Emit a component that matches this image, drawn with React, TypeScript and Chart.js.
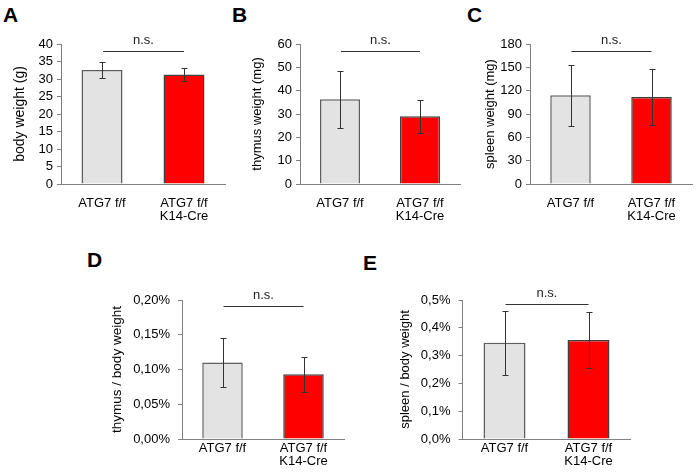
import React, { useEffect, useRef } from 'react';
import { Chart, registerables } from 'chart.js';

Chart.register(...registerables);

const FONT = '"Liberation Sans", Arial, Helvetica, sans-serif';

// ---- data ----
const categories: string[][] = [['ATG7 f/f'], ['ATG7 f/f', 'K14-Cre']];
const bodyWeight = [32.6, 31.3];
const bodyWeightErr = [2.3, 1.8];
const thymusWeight = [36.3, 29.0];
const thymusWeightErr = [12.3, 7.0];
const spleenWeight = [114, 112];
const spleenWeightErr = [39, 36];
const thymusRatio = [0.110, 0.093];
const thymusRatioErr = [0.035, 0.025];
const spleenRatio = [0.346, 0.356];
const spleenRatioErr = [0.114, 0.100];
const sigLevels = [38, 57, 171, 0.191, 0.486];
const sigLabel = 'n.s.';
const panelLetters = ['A', 'B', 'C', 'D', 'E'];
const yTitles = ['body weight (g)', 'thymus weight (mg)', 'spleen weight (mg)', 'thymus / body weight', 'spleen / body weight'];
const yMax = [40, 60, 180, 0.2, 0.5];
const yStep = [5, 10, 30, 0.05, 0.1];

const intFmt = (v: any) => String(Math.round(Number(v)));
const pct2 = (v: any) => Number(v).toFixed(2).replace('.', ',') + '%';
const pct1 = (v: any) => Number(v).toFixed(1).replace('.', ',') + '%';

const barColors = ['#e3e3e3', '#ff0000'];
const barBorders = ['#5e5e5e', '#404040'];

type Cfg = {
  values: number[]; errors: number[]; sig: number; max: number; step: number; title: string; fmt: (v: any) => string;
  l: number; t: number; w: number; h: number; padT: number; padR: number; yW: number; xH: number;
  titlePad: number; titleSize: number; xPad: number; yPad: number;
};

const panels: Cfg[] = [
  { values: bodyWeight, errors: bodyWeightErr, sig: sigLevels[0], max: yMax[0], step: yStep[0], title: yTitles[0], fmt: intFmt,
    l: 0, t: 30, w: 235, h: 200, padT: 14, padR: 10, yW: 61, xH: 46, titlePad: 11.6, titleSize: 14, xPad: 13, yPad: 4 },
  { values: thymusWeight, errors: thymusWeightErr, sig: sigLevels[1], max: yMax[1], step: yStep[1], title: yTitles[1], fmt: intFmt,
    l: 236, t: 30, w: 230, h: 200, padT: 14, padR: 6, yW: 64, xH: 46, titlePad: 13.2, titleSize: 13, xPad: 13, yPad: 4 },
  { values: spleenWeight, errors: spleenWeightErr, sig: sigLevels[2], max: yMax[2], step: yStep[2], title: yTitles[2], fmt: intFmt,
    l: 468, t: 30, w: 229, h: 200, padT: 14, padR: 5, yW: 62, xH: 46, titlePad: 14.2, titleSize: 13, xPad: 13, yPad: 4 },
  { values: thymusRatio, errors: thymusRatioErr, sig: sigLevels[3], max: yMax[3], step: yStep[3], title: yTitles[3], fmt: pct2,
    l: 100, t: 280, w: 250, h: 196, padT: 20, padR: 6, yW: 82, xH: 37, titlePad: 9.2, titleSize: 13.5, xPad: 3, yPad: 8 },
  { values: spleenRatio, errors: spleenRatioErr, sig: sigLevels[4], max: yMax[4], step: yStep[4], title: yTitles[4], fmt: pct1,
    l: 385, t: 280, w: 250, h: 196, padT: 20, padR: 4.5, yW: 77.5, xH: 37, titlePad: 12.2, titleSize: 13, xPad: 3, yPad: 8 },
];

const letterPos = [
  { left: 3, top: 4 }, { left: 232, top: 4 }, { left: 467, top: 4 }, { left: 87, top: 249 }, { left: 363, top: 252 },
];

const annotPlugin = {
  id: 'annot',
  afterDatasetsDraw(chart: any, _args: any, opts: any) {
    const { ctx } = chart;
    const meta = chart.getDatasetMeta(0);
    const ys = chart.scales.y;
    const xs = chart.scales.x;
    const vals = chart.data.datasets[0].data as number[];
    ctx.save();
    ctx.strokeStyle = '#333';
    ctx.lineWidth = 1;
    meta.data.forEach((bar: any, i: number) => {
      const v = vals[i];
      const e = opts.errors[i];
      const px = Math.round(bar.x) + 0.5;
      const yt = Math.round(ys.getPixelForValue(v + e)) + 0.5;
      const yb = Math.round(ys.getPixelForValue(v - e)) + 0.5;
      ctx.beginPath();
      ctx.moveTo(px, yt); ctx.lineTo(px, yb);
      ctx.moveTo(px - 3, yt); ctx.lineTo(px + 3, yt);
      ctx.moveTo(px - 3, yb); ctx.lineTo(px + 3, yb);
      ctx.stroke();
    });
    const sy = Math.round(ys.getPixelForValue(opts.sig)) + 0.5;
    const x0 = xs.getPixelForValue(0) + 1;
    const x1 = xs.getPixelForValue(1);
    ctx.beginPath();
    ctx.moveTo(x0, sy); ctx.lineTo(x1, sy);
    ctx.stroke();
    ctx.fillStyle = '#222';
    ctx.font = `13px ${FONT}`;
    ctx.textAlign = 'center';
    ctx.textBaseline = 'alphabetic';
    ctx.fillText(opts.label, (x0 + x1) / 2, sy - 8);
    ctx.restore();
  },
};

function Panel({ cfg }: { cfg: Cfg }) {
  const ref = useRef<HTMLCanvasElement>(null);
  useEffect(() => {
    const chart = new Chart(ref.current!, {
      type: 'bar',
      data: {
        labels: categories as any,
        datasets: [{
          data: cfg.values,
          backgroundColor: barColors,
          borderColor: barBorders,
          borderWidth: 1.5,
          barPercentage: 0.5,
          categoryPercentage: 1,
        }],
      },
      plugins: [annotPlugin],
      options: {
        animation: false,
        responsive: false,
        events: [],
        layout: { padding: { left: 0, right: cfg.padR, top: cfg.padT, bottom: 0 } },
        plugins: {
          legend: { display: false },
          tooltip: { enabled: false },
          annot: { errors: cfg.errors, sig: cfg.sig, label: sigLabel },
        } as any,
        scales: {
          x: {
            grid: { display: false, drawTicks: false },
            border: { display: true, color: '#808080', width: 1 },
            ticks: { color: '#000', font: { size: 13, family: FONT, lineHeight: 1.0 }, padding: cfg.xPad, maxRotation: 0, autoSkip: false },
            afterFit: (s: any) => { s.height = cfg.xH; },
          },
          y: {
            min: 0,
            max: cfg.max,
            ticks: { stepSize: cfg.step, autoSkip: false, color: '#000', font: { size: 13, family: FONT }, padding: cfg.yPad, callback: (v: any) => cfg.fmt(v) },
            grid: { drawOnChartArea: false, drawTicks: true, tickLength: 4, color: '#808080' },
            border: { display: true, color: '#808080', width: 1 },
            title: { display: true, text: cfg.title, color: '#000', font: { size: cfg.titleSize, family: FONT }, padding: { top: cfg.titlePad, bottom: 0 } },
            afterFit: (s: any) => { s.width = cfg.yW; },
          },
        },
      } as any,
    });
    return () => chart.destroy();
  }, []);
  return (
    <canvas
      ref={ref}
      width={cfg.w}
      height={cfg.h}
      style={{ position: 'absolute', left: cfg.l, top: cfg.t, width: cfg.w, height: cfg.h }}
    />
  );
}

export default function App() {
  return (
    <div style={{ position: 'absolute', left: 0, top: 0, width: 697, height: 476, background: '#fff', overflow: 'hidden' }}>
      {panels.map((p, i) => <Panel key={i} cfg={p} />)}
      {panelLetters.map((L, i) => (
        <div key={L} style={{ position: 'absolute', left: letterPos[i].left, top: letterPos[i].top, font: `bold 21px ${FONT}`, lineHeight: '21px', color: '#000' }}>{L}</div>
      ))}
    </div>
  );
}
